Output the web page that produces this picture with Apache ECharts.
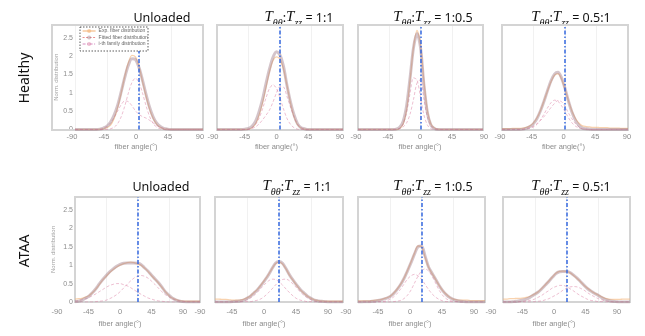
<!DOCTYPE html>
<html><head><meta charset="utf-8">
<script src="https://cdn.jsdelivr.net/npm/echarts@6/dist/echarts.min.js"></script>
<style>html,body{margin:0;padding:0;background:#fff}#c{width:645px;height:336px}</style>
</head><body><div id="c"></div>
<script>
// ---------- DATA ----------
const angles = [-90,-85,-80,-75,-70,-65,-60,-55,-50,-45,-40,-35,-30,-25,-20,-15,-10,-5,0,5,10,15,20,25,30,35,40,45,50,55,60,65,70,75,80,85,90];
const xTicks = [-90,-45,0,45,90];
const yTicks = [0,0.5,1,1.5,2,2.5];
const meanAngles = [0,0,0,0,0,0,0,0];
const rowNames = ['Healthy','ATAA'];
const ratios = ['Unloaded','1:1','1:0.5','0.5:1'];
const seriesNames = ['Exp. fiber distribution','Fitted fiber distribution','i-th family distribution'];

// Healthy (top row)      -90 .. -50                 | -45 .. -5                                  | 0   | 5 .. 45                               | 50 .. 90
const expH1  = [0,0,0,0,0,0,0,0.01,0.02,              0.05,0.12,0.3,0.6,1.0,1.45,1.82,2.02,1.98,  1.72, 1.3,0.9,0.55,0.3,0.14,0.06,0.02,0.01,0, 0,0,0,0,0,0,0,0,0];
const fitH1  = [0,0,0,0,0,0,0,0.01,0.04,              0.09,0.2,0.39,0.66,1.03,1.42,1.75,1.93,1.91, 1.69, 1.34,0.95,0.6,0.34,0.17,0.08,0.03,0.01,0, 0,0,0,0,0,0,0,0,0];
const famAH1 = [0,0,0,0,0,0,0,0,0,                    0,0.02,0.06,0.16,0.35,0.64,0.99,1.28,1.4,   1.28, 0.99,0.64,0.35,0.16,0.06,0.02,0,0,0,    0,0,0,0,0,0,0,0,0];
const famBH1 = [0,0,0,0,0,0,0,0,0.04,                 0.09,0.18,0.33,0.5,0.68,0.78,0.76,0.65,0.51, 0.41, 0.35,0.31,0.25,0.18,0.11,0.06,0.03,0.01,0, 0,0,0,0,0,0,0,0,0];

const expH2  = [0,0,0,0,0,0,0,0,0,                    0.01,0.05,0.15,0.38,0.72,1.15,1.58,1.88,1.98, 1.92, 1.65,1.2,0.72,0.35,0.13,0.04,0.01,0,0,  0,0,0,0,0,0,0,0,0];
const fitH2  = [0,0,0,0,0,0,0,0,0.01,                 0.03,0.09,0.22,0.48,0.82,1.25,1.65,1.97,2.12, 2.03, 1.72,1.2,0.75,0.4,0.16,0.05,0.02,0,0,   0,0,0,0,0,0,0,0,0];
const famAH2 = [0,0,0,0,0,0,0,0,0,                    0,0.05,0.14,0.3,0.56,0.86,1.12,1.22,1.12,   0.86, 0.56,0.3,0.14,0.05,0.01,0,0,0,0,        0,0,0,0,0,0,0,0,0];
const famBH2 = [0,0,0,0,0,0,0,0,0,                    0.01,0.03,0.07,0.15,0.26,0.39,0.53,0.75,1.0, 1.17, 1.16,0.9,0.61,0.35,0.15,0.05,0.02,0,0,  0,0,0,0,0,0,0,0,0];

const expH3  = [0,0,0,0,0,0,0,0,0,                    0,0,0,0.03,0.15,0.55,1.35,2.25,2.7,         2.3,  1.3,0.5,0.15,0.04,0.01,0,0,0,0,          0,0,0,0,0,0,0,0,0];
const fitH3  = [0,0,0,0,0,0,0,0,0,                    0,0,0.01,0.06,0.22,0.65,1.41,2.24,2.62,     2.24, 1.2,0.45,0.12,0.03,0,0,0,0,0,            0,0,0,0,0,0,0,0,0];
const famAH3 = [0,0,0,0,0,0,0,0,0,                    0,0,0,0.03,0.15,0.47,0.99,1.41,1.35,        0.88, 0.39,0.12,0.02,0,0,0,0,0,0,              0,0,0,0,0,0,0,0,0];
const famBH3 = [0,0,0,0,0,0,0,0,0,                    0,0,0.01,0.03,0.07,0.18,0.42,0.83,1.27,     1.36, 0.81,0.33,0.1,0.03,0.01,0,0,0,0,         0,0,0,0,0,0,0,0,0];

const expH4  = [0.02,0.02,0.02,0.03,0.03,0.03,0.04,0.06,0.1, 0.18,0.32,0.52,0.78,1.05,1.3,1.48,1.52,1.38, 1.1, 0.78,0.5,0.3,0.17,0.1,0.08,0.07,0.06,0.06, 0.05,0.05,0.05,0.04,0.04,0.04,0.03,0.03,0.03];
const fitH4  = [0,0,0,0,0,0,0.01,0.04,0.08,           0.16,0.3,0.51,0.77,1.06,1.33,1.51,1.56,1.41, 1.12, 0.77,0.47,0.25,0.11,0.04,0.02,0.01,0,0, 0,0,0,0,0,0,0,0,0];
const famAH4 = [0,0,0,0,0,0,0,0.01,0.03,              0.07,0.14,0.26,0.42,0.59,0.73,0.8,0.77,0.65, 0.49, 0.32,0.18,0.09,0.04,0.02,0.01,0,0,0,   0,0,0,0,0,0,0,0,0];
const famBH4 = [0,0,0,0,0,0,0.01,0.03,0.05,           0.09,0.16,0.25,0.35,0.47,0.6,0.71,0.79,0.76, 0.63, 0.45,0.29,0.16,0.07,0.02,0.01,0,0,0,  0,0,0,0,0,0,0,0,0];

// ATAA (bottom row)
const expA1  = [0.08,0.09,0.1,0.13,0.17,0.25,0.35,0.47,0.6, 0.7,0.8,0.88,0.95,1.0,1.04,1.07,1.08,1.07, 1.04, 1.0,0.92,0.83,0.72,0.62,0.52,0.4,0.28,0.18, 0.11,0.07,0.04,0.03,0.02,0.02,0.02,0.02,0.02];
const fitA1  = [0.01,0.02,0.05,0.1,0.16,0.25,0.36,0.49,0.61, 0.72,0.82,0.9,0.97,1.02,1.05,1.06,1.06,1.06, 1.05, 1.02,0.93,0.84,0.73,0.63,0.53,0.41,0.28,0.19, 0.11,0.06,0.03,0.01,0,0,0,0,0];
const famAA1 = [0,0,0,0,0,0,0.01,0.02,0.03,           0.05,0.09,0.14,0.2,0.28,0.38,0.48,0.57,0.65, 0.7,  0.72,0.7,0.65,0.57,0.48,0.38,0.28,0.2,0.14,  0.09,0.05,0.03,0.02,0.01,0,0,0,0];
const famBA1 = [0.02,0.04,0.06,0.09,0.12,0.17,0.22,0.28,0.34, 0.4,0.45,0.48,0.5,0.5,0.47,0.44,0.39,0.33, 0.27, 0.21,0.16,0.11,0.08,0.05,0.03,0.02,0.01,0, 0,0,0,0,0,0,0,0,0];

const expA2  = [0.08,0.08,0.07,0.07,0.06,0.05,0.05,0.05,0.07, 0.11,0.17,0.26,0.35,0.47,0.6,0.74,0.9,1.04, 1.08, 1.03,0.89,0.72,0.58,0.45,0.33,0.24,0.16,0.1, 0.06,0.04,0.03,0.02,0.02,0.02,0.02,0.02,0.02];
const fitA2  = [0,0,0,0,0,0.01,0.02,0.03,0.05,        0.1,0.16,0.25,0.34,0.46,0.59,0.73,0.9,1.05,  1.1,  1.05,0.9,0.73,0.59,0.46,0.34,0.25,0.16,0.1, 0.05,0.03,0.02,0.01,0,0,0,0,0];
const famAA2 = [0,0,0,0,0,0,0.01,0.01,0.03,           0.06,0.11,0.18,0.27,0.38,0.48,0.57,0.62,0.61, 0.55, 0.46,0.35,0.25,0.16,0.09,0.05,0.03,0.01,0.01, 0,0,0,0,0,0,0,0,0];
const famBA2 = [0,0,0,0,0,0,0,0,0,                    0.01,0.01,0.03,0.05,0.09,0.16,0.25,0.35,0.46, 0.55, 0.61,0.62,0.57,0.48,0.38,0.27,0.18,0.11,0.06, 0.03,0.01,0.01,0,0,0,0,0,0];

const expA3  = [0.03,0.03,0.03,0.03,0.04,0.05,0.06,0.08,0.11, 0.15,0.23,0.34,0.47,0.64,0.85,1.08,1.32,1.52, 1.5, 1.22,0.94,0.77,0.61,0.45,0.31,0.21,0.13,0.08, 0.06,0.05,0.05,0.05,0.04,0.04,0.04,0.04,0.04];
const fitA3  = [0,0,0.01,0.01,0.02,0.03,0.05,0.07,0.1, 0.14,0.22,0.33,0.46,0.63,0.84,1.06,1.3,1.5,   1.52, 1.25,0.95,0.78,0.62,0.45,0.31,0.2,0.12,0.07, 0.04,0.02,0.01,0,0,0,0,0,0];
const famAA3 = [0,0,0,0,0,0,0,0,0,                    0,0.01,0.02,0.04,0.09,0.18,0.32,0.51,0.7,   0.84, 0.9,0.84,0.7,0.51,0.32,0.18,0.09,0.04,0.02, 0.01,0,0,0,0,0,0,0,0];
const famBA3 = [0,0,0,0,0,0,0.01,0.01,0.03,           0.07,0.13,0.22,0.34,0.48,0.62,0.71,0.75,0.71, 0.62, 0.48,0.34,0.22,0.13,0.07,0.03,0.01,0.01,0, 0,0,0,0,0,0,0,0,0];

const expA4  = [0.08,0.08,0.09,0.09,0.1,0.1,0.11,0.13,0.17, 0.22,0.28,0.37,0.47,0.57,0.68,0.78,0.83,0.84, 0.83, 0.79,0.72,0.64,0.55,0.45,0.37,0.3,0.24,0.19, 0.14,0.1,0.08,0.07,0.07,0.07,0.08,0.08,0.08];
const fitA4  = [0,0,0,0.01,0.02,0.04,0.06,0.09,0.15,  0.21,0.27,0.36,0.46,0.56,0.67,0.77,0.82,0.83, 0.83, 0.8,0.73,0.65,0.55,0.45,0.36,0.29,0.23,0.18, 0.12,0.07,0.04,0.02,0.01,0,0,0,0];
const famAA4 = [0,0,0,0,0,0.01,0.02,0.03,0.05,        0.08,0.13,0.18,0.25,0.31,0.38,0.42,0.45,0.45, 0.42, 0.36,0.3,0.23,0.17,0.12,0.07,0.04,0.03,0.01, 0.01,0,0,0,0,0,0,0,0];
const famBA4 = [0,0,0,0,0,0,0,0,0,                    0.01,0.02,0.03,0.06,0.09,0.14,0.19,0.25,0.32, 0.37, 0.41,0.42,0.41,0.37,0.32,0.25,0.19,0.14,0.09, 0.06,0.03,0.02,0.01,0,0,0,0,0];

// ---------- LAYOUT / STYLE ----------
const panels = [
  [expH1,fitH1,famAH1,famBH1],[expH2,fitH2,famAH2,famBH2],[expH3,fitH3,famAH3,famBH3],[expH4,fitH4,famAH4,famBH4],
  [expA1,fitA1,famAA1,famBA1],[expA2,fitA2,famAA2,famBA2],[expA3,fitA3,famAA3,famBA3],[expA4,fitA4,famAA4,famBA4]
];
const rows = [
  {gridTop:25, gridBottom:129.5, titleY:18, rowLabelY:78, labelMargin:3, nameGap:13, yNameGap:14,
   dataX:[[75,203],[217,343],[358,483],[502,628]], labelX:[[72,200],[213,340],[356,484],[500,627]],
   frameX:[[52,203],[217,343],[358,483],[502,628]], frameY:[25,130], titleX:[162,299,433,571]},
  {gridTop:197, gridBottom:302, titleY:187, rowLabelY:251, labelMargin:6, nameGap:18, yNameGap:19,
   dataX:[[75,200],[215,343],[358,485],[503,630]], labelX:[[57,183],[200,328],[346,474],[491,617]],
   frameX:[[75,200],[215,343],[358,485],[503,630]], frameY:[197,302], titleX:[161,297,433,571]}
];
const lineStyles = {
  exp: {color:'rgba(244,180,120,0.6)', width:1.3, type:'solid'},
  fit: {color:'rgba(160,125,138,0.45)', width:3, type:'solid'},
  fam: {color:'rgba(222,130,165,0.5)', width:1, type:[3,2]}
};
const meanColor = '#3468e0';
const tickColor = '#8c8c8c';
const tickFont = 'Liberation Sans';

const grids=[], xAxes=[], yAxes=[], series=[], graphics=[];
let gi = 0;
rows.forEach((row, r) => {
  row.dataX.forEach((dx, p) => {
    const k = r*4 + p;
    const arrs = panels[k];
    grids.push({left:dx[0], width:dx[1]-dx[0], top:row.gridTop, height:row.gridBottom-row.gridTop, containLabel:false, outerBoundsMode:'none'});
    xAxes.push({gridIndex:gi, type:'value', min:-90, max:90, interval:45,
      axisLabel:{show:false}, axisTick:{show:false}, axisLine:{show:false},
      splitLine:{show:true, lineStyle:{color:'#f1f1f1', width:1}}});
    yAxes.push({gridIndex:gi, type:'value', min:0, max:2.85,
      axisLine:{show:false}, axisTick:{show:false}, splitLine:{show:false},
      axisLabel: p===0 ? {show:true, customValues:yTicks, margin:2, fontSize:7, color:tickColor, fontFamily:tickFont} : {show:false},
      name: p===0 ? 'Norm. distribution' : '', nameLocation:'middle', nameGap:row.yNameGap,
      nameTextStyle:{fontSize:6, color:'#a0a0a0', fontFamily:tickFont}});
    const mk = (arr) => angles.map((a,i) => [a, arr[i]]);
    const base = {type:'line', xAxisIndex:gi, yAxisIndex:gi, symbol:'none', showSymbol:false, smooth:0.3, silent:true, animation:false};
    series.push(Object.assign({}, base, {name:seriesNames[0], data:mk(arrs[0]), lineStyle:lineStyles.exp, itemStyle:{color:lineStyles.exp.color}}));
    series.push(Object.assign({}, base, {name:seriesNames[2], data:mk(arrs[2]), lineStyle:lineStyles.fam, itemStyle:{color:lineStyles.fam.color}}));
    series.push(Object.assign({}, base, {name:seriesNames[2], data:mk(arrs[3]), lineStyle:lineStyles.fam, itemStyle:{color:lineStyles.fam.color}}));
    series.push(Object.assign({}, base, {name:seriesNames[1], data:mk(arrs[1]), lineStyle:lineStyles.fit, itemStyle:{color:lineStyles.fit.color}}));
    series.push({type:'line', name:'mean', xAxisIndex:gi, yAxisIndex:gi, data:[], silent:true, animation:false,
      itemStyle:{color:meanColor}, lineStyle:{color:meanColor}, z:4,
      markLine:{silent:true, symbol:['none','none'], label:{show:false}, animation:false,
        lineStyle:{color:meanColor, width:1.5, type:[4,2,1.5,2], opacity:1},
        emphasis:{disabled:true},
        data:[{xAxis:meanAngles[k], lineStyle:{color:meanColor, width:1.5, type:[4,2,1.5,2]}}]}});
    gi++;
    const lx = row.labelX[p];
    grids.push({left:lx[0], width:lx[1]-lx[0], top:row.gridTop, height:row.gridBottom-row.gridTop, containLabel:false, outerBoundsMode:'none'});
    xAxes.push({gridIndex:gi, type:'value', min:-90, max:90, interval:45,
      axisLine:{show:false}, axisTick:{show:false}, splitLine:{show:false},
      axisLabel:{customValues:xTicks, margin:row.labelMargin, fontSize:7.5, color:tickColor, fontFamily:tickFont},
      name:'fiber angle(°)', nameLocation:'middle', nameGap:row.nameGap,
      nameTextStyle:{fontSize:7.5, color:tickColor, fontFamily:tickFont}});
    yAxes.push({gridIndex:gi, type:'value', show:false, min:0, max:1});
    gi++;
    const fx = row.frameX[p];
    graphics.push({type:'rect', z:1, silent:true, shape:{x:fx[0], y:row.frameY[0], width:fx[1]-fx[0], height:row.frameY[1]-row.frameY[0]},
      style:{fill:'none', stroke:'#d4d4d4', lineWidth:2}});
    const tx = row.titleX[p];
    if (p === 0) {
      graphics.push({type:'text', x:tx, y:row.titleY, silent:true,
        style:{text:ratios[0], fontSize:12.5, fontFamily:'Noto Sans', fill:'#111', align:'center', verticalAlign:'middle'}});
    } else {
      graphics.push({type:'text', x:tx, y:row.titleY+1, silent:true,
        style:{text:'{T|T}{s|θθ}{c|:}{T|T}{s|zz}{c| = ' + ratios[p] + '}', align:'center', verticalAlign:'middle',
          rich:{
            T:{fontFamily:'Liberation Serif', fontStyle:'italic', fontSize:15, fill:'#111', verticalAlign:'bottom', padding:[0,0,3,0]},
            s:{fontFamily:'Liberation Serif', fontStyle:'italic', fontSize:10, fill:'#111', verticalAlign:'bottom', padding:[0,0,0,0]},
            c:{fontFamily:'Noto Sans', fontSize:12.5, fill:'#111', verticalAlign:'bottom', padding:[0,0,3,0]}
          }}});
    }
  });
  graphics.push({type:'text', x:25, y:row.rowLabelY, rotation:Math.PI/2, silent:true,
    style:{text:rowNames[r], fontSize:14, fontFamily:'Noto Sans', fill:'#111', align:'center', verticalAlign:'middle'}});
});
graphics.push({type:'rect', z:10, silent:true, shape:{x:80, y:27, width:68, height:24},
  style:{fill:'#fff', stroke:'#333', lineWidth:0.8, lineDash:[1.5,1.5]}});

const chart = echarts.init(document.getElementById('c'), null, {renderer:'canvas'});
chart.setOption({
  animation:false,
  backgroundColor:'#fff',
  grid:grids, xAxis:xAxes, yAxis:yAxes, series:series, graphic:graphics,
  legend:{left:82, top:28.5, orient:'vertical', itemWidth:13, itemHeight:5, itemGap:1.5, padding:0, selectedMode:false, z:12,
    textStyle:{fontSize:5, color:'#666', fontFamily:tickFont, padding:[0,0,0,-2]},
    data:[
      {name:seriesNames[0], lineStyle:{color:'#f5bd88', width:1.2, type:'solid'}},
      {name:seriesNames[1], lineStyle:{color:'#ee8f8f', width:1, type:[2,1.5]}},
      {name:seriesNames[2], lineStyle:{color:'#d58cc0', width:1, type:[3,1.5,1,1.5]}}
    ]}
});
</script></body></html>
